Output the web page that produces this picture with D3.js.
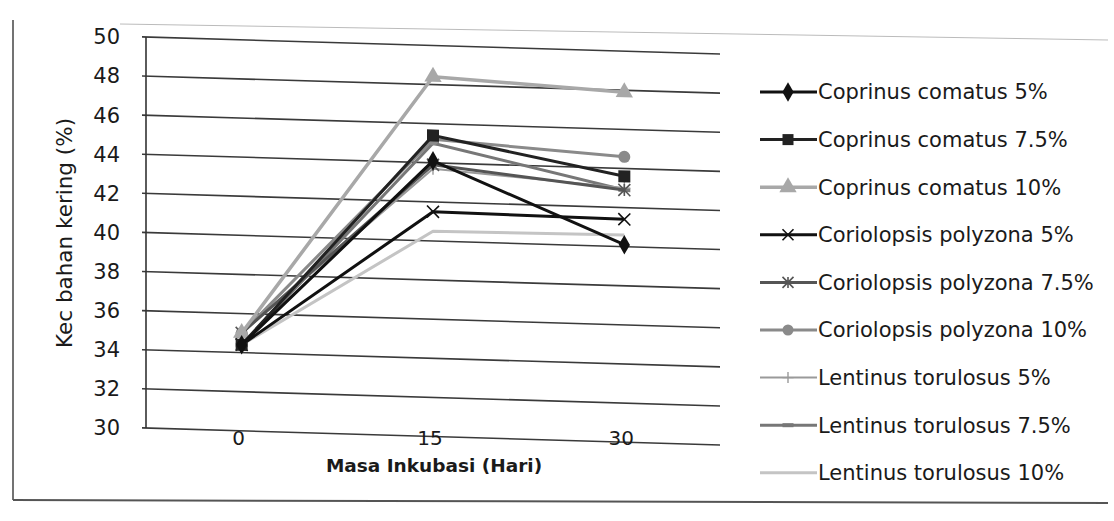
<!DOCTYPE html>
<html>
<head>
<meta charset="utf-8">
<script src="https://cdn.jsdelivr.net/npm/d3@7/dist/d3.min.js"></script>
<style>
  body { margin: 0; background: #fff; }
  text { font-family: "DejaVu Sans", "Open Sans", sans-serif; fill: #1a1a1a; }
</style>
</head>
<body>
<svg></svg>
<script>
//--Data
const days = ["0", "15", "30"];
const yTicks = [30, 32, 34, 36, 38, 40, 42, 44, 46, 48, 50];
const seriesNames = [
  "Coprinus comatus 5%", "Coprinus comatus 7.5%", "Coprinus comatus 10%",
  "Coriolopsis polyzona 5%", "Coriolopsis polyzona 7.5%", "Coriolopsis polyzona 10%",
  "Lentinus torulosus 5%", "Lentinus torulosus 7.5%", "Lentinus torulosus 10%"
];
const coprinus5 = [34.4, 44.1, 40.1];
const coprinus75 = [34.4, 45.4, 43.6];
const coprinus10 = [35.0, 48.4, 47.9];
const coriolopsis5 = [34.4, 41.5, 41.4];
const coriolopsis75 = [35.0, 43.9, 42.9];
const coriolopsis10 = [35.0, 45.2, 44.6];
const lentinus5 = [35.0, 43.7, 43.0];
const lentinus75 = [34.4, 45.0, 42.9];
const lentinus10 = [34.4, 40.5, 40.6];

//--Styles per series
const series = [
  {values: coprinus5, color: "#111", width: 3, marker: "diamond"},
  {values: coprinus75, color: "#222", width: 3, marker: "square"},
  {values: coprinus10, color: "#a8a8a8", width: 3.5, marker: "triangle"},
  {values: coriolopsis5, color: "#111", width: 3, marker: "x"},
  {values: coriolopsis75, color: "#555", width: 3, marker: "asterisk"},
  {values: coriolopsis10, color: "#8a8a8a", width: 3, marker: "circle"},
  {values: lentinus5, color: "#9a9a9a", width: 2, marker: "plus"},
  {values: lentinus75, color: "#777", width: 3, marker: "dash"},
  {values: lentinus10, color: "#c4c4c4", width: 3, marker: "none"}
].map((s, i) => Object.assign(s, {name: seriesNames[i]}));

const canvas = {width: 1114, height: 521};
const plotArea = {left: 146, right: 720, top: 37, bottom: 428};

let root = d3.select("svg")
  .attr("width", canvas.width)
  .attr("height", canvas.height);

//--Outer frame (scanned page border)
root.append("line").attr("x1", 13).attr("y1", 20).attr("x2", 13).attr("y2", 500)
  .attr("stroke", "#444").attr("stroke-width", 1.5);
root.append("line").attr("x1", 13).attr("y1", 500).attr("x2", 1108).attr("y2", 503)
  .attr("stroke", "#555").attr("stroke-width", 2);
root.append("line").attr("x1", 120).attr("y1", 24).attr("x2", 1108).attr("y2", 40)
  .attr("stroke", "#bbb").attr("stroke-width", 1);

//--Scales
let x = d3.scaleBand().domain(days).range([plotArea.left, plotArea.right]).padding(0);
let y = d3.scaleLinear().domain([30, 50]).range([plotArea.bottom, plotArea.top]);
const cx = d => x(d) + x.bandwidth() / 2;

//--Plot group, slightly skewed like the scan
const skew = 1.7;
let plot = root.append("g")
  .attr("transform", `translate(${plotArea.left},0) skewY(${skew}) translate(${-plotArea.left},0)`);

plot.append("g").selectAll("line")
  .data(yTicks)
  .join("line")
  .attr("x1", plotArea.left - 4)
  .attr("x2", plotArea.right)
  .attr("y1", d => y(d))
  .attr("y2", d => y(d))
  .attr("stroke", "#3a3a3a")
  .attr("stroke-width", 1.6);

plot.append("line")
  .attr("x1", plotArea.left).attr("x2", plotArea.left)
  .attr("y1", y(50)).attr("y2", y(30))
  .attr("stroke", "#333").attr("stroke-width", 1.6);

//--Marker drawing
function drawMarker(g, type, color, size) {
  const s = size;
  if (type === "diamond") {
    g.append("path").attr("d", d3.symbol(d3.symbolDiamond, 110)()).attr("fill", color);
  } else if (type === "square") {
    g.append("rect").attr("x", -s / 2).attr("y", -s / 2).attr("width", s).attr("height", s).attr("fill", color);
  } else if (type === "triangle") {
    g.append("path").attr("d", d3.symbol(d3.symbolTriangle, 130)()).attr("fill", color);
  } else if (type === "circle") {
    g.append("circle").attr("r", s / 2).attr("fill", color);
  } else if (type === "x") {
    g.append("path").attr("d", `M${-s/2},${-s/2}L${s/2},${s/2}M${-s/2},${s/2}L${s/2},${-s/2}`)
      .attr("stroke", color).attr("stroke-width", 1.6);
  } else if (type === "asterisk") {
    g.append("path").attr("d", `M${-s/2},${-s/2}L${s/2},${s/2}M${-s/2},${s/2}L${s/2},${-s/2}M0,${-s/2}L0,${s/2}`)
      .attr("stroke", color).attr("stroke-width", 1.6);
  } else if (type === "plus") {
    g.append("path").attr("d", `M${-s/2},0L${s/2},0M0,${-s/2}L0,${s/2}`)
      .attr("stroke", color).attr("stroke-width", 1.4);
  } else if (type === "dash") {
    g.append("rect").attr("x", -s / 2).attr("y", -2).attr("width", s).attr("height", 4).attr("fill", color);
  }
}

//--Lines and markers
let line = d3.line().x((d, i) => cx(days[i])).y(d => y(d));
let seriesG = plot.append("g").selectAll("g")
  .data(series.slice().reverse())
  .join("g");
seriesG.append("path")
  .attr("d", d => line(d.values))
  .attr("fill", "none")
  .attr("stroke", d => d.color)
  .attr("stroke-width", d => d.width)
  .attr("stroke-linejoin", "round");
seriesG.each(function(d) {
  let g = d3.select(this);
  d.values.forEach((v, i) => {
    drawMarker(g.append("g").attr("transform", `translate(${cx(days[i])},${y(v)})`), d.marker, d.color, 12);
  });
});

//--Axis labels
root.append("g").selectAll("text")
  .data(yTicks)
  .join("text")
  .attr("x", 120)
  .attr("y", d => y(d))
  .attr("dy", "0.35em")
  .attr("text-anchor", "end")
  .style("font-size", "21px")
  .text(d => d);

root.append("g").selectAll("text")
  .data(days)
  .join("text")
  .attr("x", d => cx(d) - 3)
  .attr("y", 445)
  .attr("text-anchor", "middle")
  .style("font-size", "20px")
  .text(d => d);

root.append("text")
  .attr("x", 434)
  .attr("y", 472)
  .attr("text-anchor", "middle")
  .style("font-size", "18.5px")
  .style("font-weight", "bold")
  .text("Masa Inkubasi (Hari)");

root.append("text")
  .attr("transform", "translate(72,233) rotate(-90)")
  .attr("text-anchor", "middle")
  .style("font-size", "21.5px")
  .text("Kec bahan kering (%)");

//--Legend
let legend = root.append("g").selectAll("g")
  .data(series)
  .join("g")
  .attr("transform", (d, i) => `translate(760,${92 + i * 47.6})`);
legend.append("line")
  .attr("x1", 0).attr("x2", 57)
  .attr("stroke", d => d.color)
  .attr("stroke-width", d => d.width);
legend.each(function(d) {
  drawMarker(d3.select(this).append("g").attr("transform", "translate(28,0)"), d.marker, d.color, 11);
});
legend.append("text")
  .attr("x", 58)
  .attr("dy", "0.35em")
  .style("font-size", "21px")
  .text(d => d.name);
</script>
</body>
</html>
